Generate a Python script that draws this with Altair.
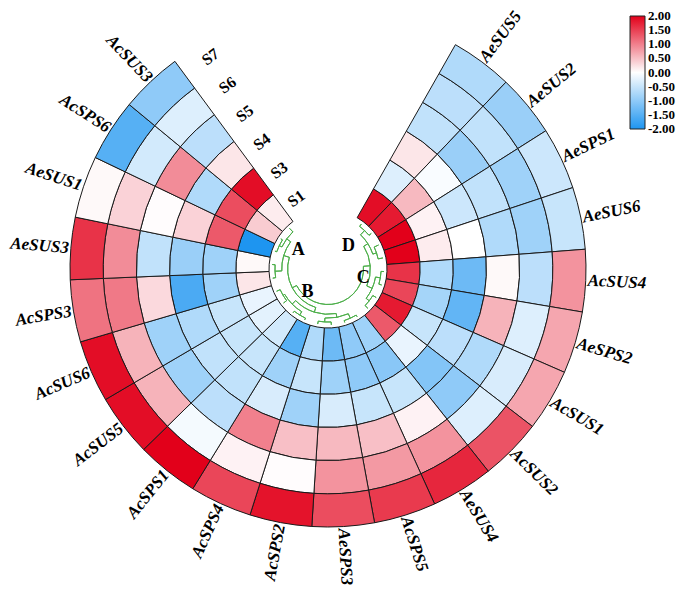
import altair as alt
import numpy as np
import pandas as pd

# ---------------- data ----------------
genes = ["AeSUS5", "AeSUS2", "AeSPS1", "AeSUS6", "AcSUS4", "AeSPS2", "AcSUS1",
         "AcSUS2", "AeSUS4", "AcSPS5", "AeSPS3", "AcSPS2", "AcSPS4", "AcSPS1",
         "AcSUS5", "AcSUS6", "AcSPS3", "AeSUS3", "AeSUS1", "AcSPS6", "AcSUS3"]
samples = ["S1", "S3", "S4", "S5", "S6", "S7"]

vals_S1 = [1.9, 1.8, 2.0, 2.0, 1.6, 1.45, 1.8, 1.3, -0.85, -1.0, -1.3, -0.7, -1.5,
           -0.4, -0.25, -0.2, 0.2, 0.05, -2.0, 0.4, 0.15]
vals_S3 = [-0.3, 0.55, 0.1, 0.15, -0.7, -0.8, -0.5, -0.2, -1.05, -1.0, -0.85, -0.5,
           -0.85, -0.5, -0.5, -0.5, -0.85, -0.85, 1.3, 1.4, 1.9]
vals_S4 = [0.2, -0.05, -0.45, 0.0, -1.3, -1.4, -0.6, -1.1, -0.5, -0.5, -0.35, -0.85,
           -0.35, -0.55, -0.55, -0.7, -1.6, -0.9, 0.35, -0.7, 0.2]
vals_S5 = [-0.55, -0.9, -0.55, -0.7, 0.05, 0.6, -0.7, -1.0, 0.1, 0.5, 0.55, 0.5,
           1.0, -0.6, -0.85, -0.85, 0.3, -0.55, 0.02, 0.9, -0.6]
vals_S6 = [-0.6, -0.55, -0.85, -0.85, -0.6, -0.3, -0.35, -0.3, 0.85, 0.8, 0.85, 0.02,
           0.1, -0.1, 0.6, 0.6, 1.05, 0.9, 0.35, -0.4, -0.3]
vals_S7 = [-0.7, -0.9, -0.45, -0.5, 0.85, 0.7, 0.7, 1.35, 1.7, 1.55, 1.4, 1.85,
           1.45, 2.0, 1.9, 1.9, 1.1, 1.6, 0.05, -1.5, -1.0]
ring_values = [vals_S1, vals_S3, vals_S4, vals_S5, vals_S6, vals_S7]

# dendrogram merges (left, right, height); ids >= 21 refer to earlier merges
merges = [
    (0, 1, 3), (2, 3, 5), (21, 22, 9),            # D
    (4, 5, 3), (6, 7, 4), (24, 25, 8),            # C
    (23, 26, 14),
    (8, 9, 2), (10, 11, 3), (28, 29, 7),
    (12, 13, 2), (14, 15, 4), (31, 32, 6), (30, 33, 11),   # B
    (16, 17, 3), (18, 19, 2), (36, 20, 5), (35, 37, 10),   # A
    (34, 38, 16),
    (27, 39, 21),
]

cluster_names = ["A", "B", "C", "D"]
cluster_pos = [19.53, 13.74, 5.39, 0.89]   # angular anchor (sector units)
cluster_hgt = [21, 26, 20, 26]             # dendrogram height units

legend_values = [2.0, 1.5, 1.0, 0.5, 0.0, -0.5, -1.0, -1.5, -2.0]

# ---------------- geometry / style ----------------
N = len(genes)
TH0, TH1 = 29.6, 323.6            # degrees, clockwise from 12 o'clock
CX, CY = 320, 261
R_IN, R_OUT = 59, 258
SERIF = "Liberation Serif"
GREEN = "#4DAF4A"
step = (TH1 - TH0) / N
LIM = 2.002   # colour limits (a hair beyond +/-2 so end labels centre on the bar ends)

theta_scale = alt.Scale(type="linear", domain=[0, N],
                        range=[float(np.deg2rad(TH0)), float(np.deg2rad(TH1))],
                        zero=False, nice=False)
ring_scale = alt.Scale(type="linear", domain=[0, len(samples)], range=[R_IN, R_OUT],
                       zero=False, nice=False)
dend_scale = alt.Scale(type="linear", domain=[0, 21], range=[56, 35.5],
                       zero=False, nice=False)
color_scale = alt.Scale(domain=[-LIM, 0, LIM], range=["#1E95F0", "#FFFFFF", "#E2001A"],
                        interpolate="rgb")

# heatmap table
rows = []
for j, s in enumerate(samples):
    for k, g in enumerate(genes):
        rows.append(dict(gene=g, sample=s, t0=k, t1=k + 1, r0=j, r1=j + 1,
                         value=ring_values[j][k]))
heat_df = pd.DataFrame(rows)

# gene labels
glab = []
for k, g in enumerate(genes):
    deg = TH0 + step * (k + 0.5)
    right = deg < 180
    ang = (deg - 90) % 360 if right else (deg + 90) % 360
    glab.append(dict(gene=g, t=k + 0.5, rr=len(samples), ang=ang, right=right))
glab_df = pd.DataFrame(glab)
glab_r = glab_df[glab_df.right].drop(columns="right")
glab_l = glab_df[~glab_df.right].drop(columns="right")

# ring labels
rlab_df = pd.DataFrame(dict(sample=samples,
                            rr=[j + 0.5 for j in range(len(samples))],
                            t=[N + 5.2 / step] * len(samples),
                            ang=[TH1] * len(samples)))

# dendrogram segments
node_t = {k: k + 0.5 for k in range(N)}
node_h = {k: 0.0 for k in range(N)}
seg = []
for i, (a, b, h) in enumerate(merges):
    nid = N + i
    node_t[nid] = (node_t[a] + node_t[b]) / 2
    node_h[nid] = h
    for c in (a, b):
        seg.append(dict(t0=node_t[c], t1=node_t[c], h0=node_h[c], h1=h))
    seg.append(dict(t0=node_t[a], t1=node_t[b], h0=h, h1=h))
seg_df = pd.DataFrame(seg)

let_df = pd.DataFrame(dict(name=cluster_names, t=cluster_pos, h=cluster_hgt))

XY = dict(x=alt.value(CX), y=alt.value(CY))

heat = alt.Chart(heat_df).mark_arc(stroke="#1a1a1a", strokeWidth=1).encode(
    theta=alt.Theta("t0:Q", scale=theta_scale, stack=False),
    theta2=alt.Theta2("t1"),
    radius=alt.Radius("r1:Q", scale=ring_scale, stack=False),
    radius2=alt.Radius2("r0"),
    color=alt.Color("value:Q", scale=color_scale, legend=alt.Legend(
        title=None, orient="none", legendX=622, legendY=8, direction="vertical",
        gradientLength=113, gradientThickness=15, values=legend_values,
        labelExpr="replace(format(datum.value, '.2f'), '\u2212', '-')",
        labelFont=SERIF, labelFontWeight="bold", labelFontSize=13,
        labelColor="black", labelOverlap=False, labelOffset=3,
        gradientStrokeColor="#222", gradientStrokeWidth=1)),
    **XY,
)

dend = alt.Chart(seg_df).mark_arc(filled=False, stroke=GREEN, strokeWidth=1).encode(
    theta=alt.Theta("t0:Q", scale=theta_scale, stack=False),
    theta2=alt.Theta2("t1"),
    radius=alt.Radius("h0:Q", scale=dend_scale, stack=False),
    radius2=alt.Radius2("h1"),
    **XY,
)

def gene_layer(df, align, dx):
    return alt.Chart(df).mark_text(
        align=align, baseline="middle", dx=dx, font=SERIF, fontSize=17,
        fontStyle="italic", fontWeight="bold", color="black").encode(
        theta=alt.Theta("t:Q", scale=theta_scale, stack=False),
        radius=alt.Radius("rr:Q", scale=ring_scale, stack=False),
        angle=alt.Angle("ang:Q", scale=None),
        text="gene:N",
        **XY,
    )

glr = gene_layer(glab_r, "left", 2)
gll = gene_layer(glab_l, "right", -2)

rlab = alt.Chart(rlab_df).mark_text(
    align="center", baseline="middle", dx=9.4, font=SERIF, fontSize=16,
    fontWeight="bold", color="black").encode(
    theta=alt.Theta("t:Q", scale=theta_scale, stack=False),
    radius=alt.Radius("rr:Q", scale=ring_scale, stack=False),
    angle=alt.Angle("ang:Q", scale=None),
    text="sample:N",
    **XY,
)

letters = alt.Chart(let_df).mark_text(
    align="center", baseline="middle", font=SERIF, fontSize=18,
    fontWeight="bold", color="black").encode(
    theta=alt.Theta("t:Q", scale=theta_scale, stack=False),
    radius=alt.Radius("h:Q", scale=dend_scale, stack=False),
    text="name:N",
    **XY,
)

chart = alt.layer(heat, dend, glr, gll, rlab, letters).resolve_scale(
    radius="independent"
).properties(
    width=669, height=579, padding=0,
    autosize=alt.AutoSizeParams(type="none"),
).configure_view(strokeWidth=0)

chart.save("out.html", embed_options={"renderer": "svg", "actions": False})
